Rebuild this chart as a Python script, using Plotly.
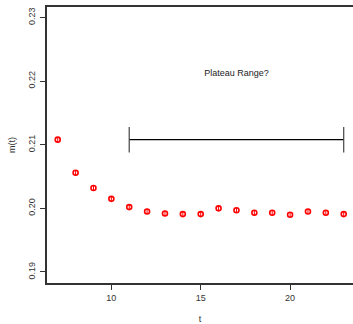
import plotly.graph_objects as go

t = [7, 8, 9, 10, 11, 12, 13, 14, 15, 16, 17, 18, 19, 20, 21, 22, 23]
m = [0.2108, 0.2056, 0.2032, 0.2015, 0.2002, 0.1995, 0.1992, 0.1991, 0.1991,
     0.2000, 0.1997, 0.1993, 0.1993, 0.1990, 0.1995, 0.1993, 0.1991]
m_err = [0.0004] * len(t)

plateau_t = [11, 23]
plateau_y = 0.2108
cap_half = 0.002
label_text = "Plateau Range?"
label_t, label_y = 17, 0.2211

FONT = "Liberation Sans, Arial, sans-serif"

fig = go.Figure()
fig.add_trace(go.Scatter(
    x=t, y=m, mode="markers",
    marker=dict(symbol="circle-open", size=5, color="red", line=dict(width=1.6, color="red")),
    error_y=dict(type="data", array=m_err, visible=True, color="red", thickness=1, width=0),
    showlegend=False, hoverinfo="skip"))

fig.add_trace(go.Scatter(
    x=plateau_t, y=[plateau_y, plateau_y], mode="lines",
    line=dict(color="black", width=1.2), showlegend=False, hoverinfo="skip"))
for xc in plateau_t:
    fig.add_trace(go.Scatter(
        x=[xc, xc], y=[plateau_y - cap_half, plateau_y + cap_half], mode="lines",
        line=dict(color="#444", width=1.2), showlegend=False, hoverinfo="skip"))

fig.add_trace(go.Scatter(
    x=[label_t], y=[label_y], mode="text", text=[label_text],
    textfont=dict(family=FONT, size=9, color="#222"), showlegend=False, hoverinfo="skip"))

fig.update_layout(
    width=353, height=324,
    margin=dict(l=47, r=0, t=7, b=41),
    paper_bgcolor="white", plot_bgcolor="white",
    font=dict(family=FONT, size=9, color="#333"),
    xaxis=dict(range=[6.4, 23.52], tickvals=[10, 15, 20], ticktext=["10", "15", "20"],
               showgrid=False, zeroline=False, showline=True, linecolor="#333", linewidth=1.5,
               mirror=True, ticks="outside", ticklen=5, tickcolor="#333", tickwidth=1,
               title=dict(text="t", font=dict(size=9), standoff=16)),
    yaxis=dict(range=[0.18827, 0.23165], tickvals=[0.19, 0.20, 0.21, 0.22, 0.23],
               ticktext=["0.19", "0.20", "0.21", "0.22", "0.23"], tickangle=-90,
               showgrid=False, zeroline=False, showline=True, linecolor="#333", linewidth=1.5,
               mirror=False, ticks="outside", ticklen=5, tickcolor="#333", tickwidth=1,
               ticklabelstandoff=2,
               title=dict(text="m(t)", font=dict(size=9), standoff=10)),
)

fig.write_html("out.html")
